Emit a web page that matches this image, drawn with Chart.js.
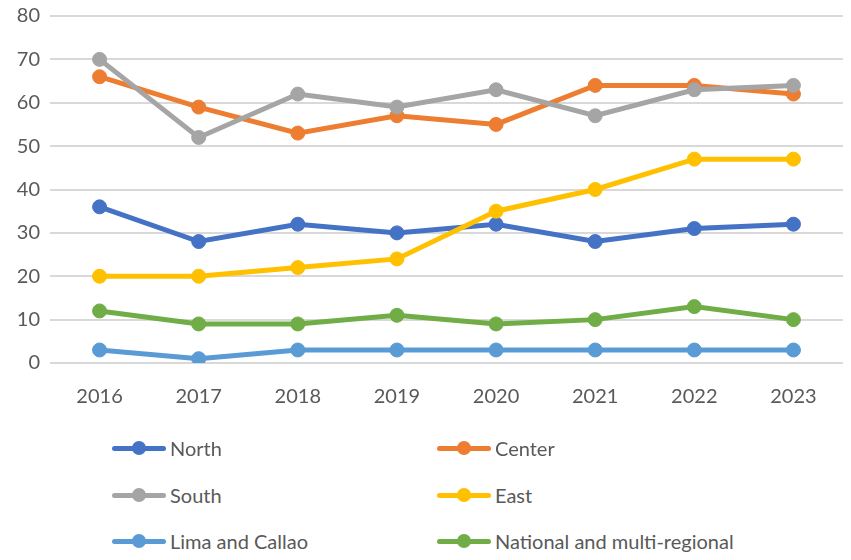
<!DOCTYPE html>
<html>
<head>
<meta charset="utf-8">
<script src="https://cdn.jsdelivr.net/npm/chart.js@4"></script>
<style>
  html, body { margin: 0; padding: 0; background: #fff; }
  #wrap { position: relative; width: 851px; height: 560px; overflow: hidden; }
  #chart { position: absolute; left: 0; top: -6px; }
  .leg { position: absolute; display: flex; align-items: center; font-family: Lato, "Open Sans", sans-serif; font-size: 20px; color: #595959; }
  .leg .ic { position: relative; width: 54px; height: 14px; margin-right: 4px; }
  .leg .ic .ln { position: absolute; left: 0; right: 0; top: 5px; height: 5px; border-radius: 3px; }
  .leg .ic .dt { position: absolute; left: 20px; top: 0; width: 14px; height: 14px; border-radius: 50%; }
</style>
</head>
<body>
<div id="wrap">
  <canvas id="chart" width="851" height="449"></canvas>
  <div id="legend"></div>
</div>
<script>
const years = ['2016', '2017', '2018', '2019', '2020', '2021', '2022', '2023'];
const north = [36, 28, 32, 30, 32, 28, 31, 32];
const center = [66, 59, 53, 57, 55, 64, 64, 62];
const south = [70, 52, 62, 59, 63, 57, 63, 64];
const east = [20, 20, 22, 24, 35, 40, 47, 47];
const limaCallao = [3, 1, 3, 3, 3, 3, 3, 3];
const national = [12, 9, 9, 11, 9, 10, 13, 10];

const seriesNames = ['North', 'Center', 'South', 'East', 'Lima and Callao', 'National and multi-regional'];
const seriesData = [north, center, south, east, limaCallao, national];
const seriesColors = ['#4472C4', '#ED7D31', '#A5A5A5', '#FFC000', '#5B9BD5', '#70AD47'];

const fontFamily = 'Lato, "Open Sans", sans-serif';

const datasets = seriesNames.map((name, i) => ({
    label: name,
    data: seriesData[i],
    borderColor: seriesColors[i],
    backgroundColor: seriesColors[i],
    pointBackgroundColor: seriesColors[i],
    pointBorderColor: seriesColors[i],
    borderWidth: 5,
    pointRadius: 7,
    pointBorderWidth: 1,
    tension: 0,
    order: seriesNames.length - i // later series drawn on top, like the original
}));

const ctx = document.getElementById('chart').getContext('2d');
new Chart(ctx, {
    type: 'line',
    data: { labels: years, datasets: datasets },
    options: {
        responsive: false,
        animation: false,
        layout: { padding: { top: 0, right: 6, bottom: 12, left: 0 } },
        scales: {
            x: {
                offset: true,
                grid: { display: false, drawTicks: false },
                border: { display: false },
                ticks: { color: '#595959', padding: 22, font: { size: 20, family: fontFamily } }
            },
            y: {
                min: 0,
                max: 80,
                grid: { color: '#D9D9D9', lineWidth: 2, drawTicks: false },
                border: { display: false },
                ticks: { stepSize: 10, color: '#595959', padding: 10, font: { size: 20, family: fontFamily } },
                afterFit: (scale) => { scale.width = 50; }
            }
        },
        plugins: {
            legend: { display: false },
            tooltip: { enabled: false }
        }
    }
});

// legend below the chart, two columns
const legend = document.getElementById('legend');
const colX = [112, 437];
const rowY = [448, 495, 541];
seriesNames.forEach((name, i) => {
    const item = document.createElement('div');
    item.className = 'leg';
    item.style.left = colX[i % 2] + 'px';
    item.style.top = (rowY[Math.floor(i / 2)] - 13) + 'px';
    item.style.height = '26px';
    item.innerHTML = '<div class="ic"><div class="ln" style="background:' + seriesColors[i] +
        '"></div><div class="dt" style="background:' + seriesColors[i] + '"></div></div><span>' + name + '</span>';
    legend.appendChild(item);
});
</script>
</body>
</html>
